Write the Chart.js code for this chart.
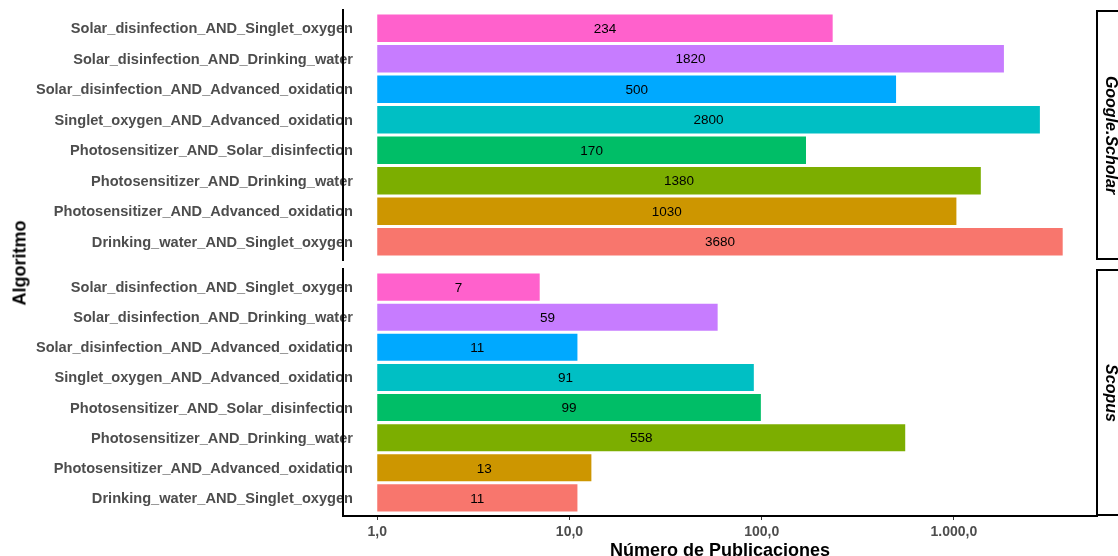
<!DOCTYPE html>
<html>
<head>
<meta charset="utf-8">
<script src="https://cdn.jsdelivr.net/npm/chart.js@4/dist/chart.umd.min.js"></script>
<style>
  body { margin: 0; background: #fff; }
  #wrap { position: relative; width: 1118px; height: 556px; overflow: hidden; }
  #topCanvas { position: absolute; left: 0; top: 0; }
  #bottomCanvas { position: absolute; left: 0; top: 259px; }
  .strip { position: absolute; left: 1096px; width: 40px; border: 2px solid #000; box-sizing: border-box; }
  .strip span { position: absolute; left: 13px; top: 50%; transform: translate(-50%, -50%) rotate(90deg);
    font: italic bold 16px "Liberation Sans", Arial, sans-serif; white-space: nowrap; color: #000; }
  #ytitle { position: absolute; left: 20px; top: 263px; transform: translate(-50%, -50%) rotate(-90deg);
    font: bold 18px "Liberation Sans", Arial, sans-serif; color: #000; white-space: nowrap; }
</style>
</head>
<body>
<div id="wrap">
  <canvas id="topCanvas" width="1118" height="270"></canvas>
  <canvas id="bottomCanvas" width="1118" height="297"></canvas>
  <div class="strip" style="top:10px;height:250px"><span>Google.Scholar</span></div>
  <div class="strip" style="top:269px;height:247px"><span>Scopus</span></div>
  <div id="ytitle">Algoritmo</div>
</div>
<script>
// categories, top to bottom
const algorithms = [
    'Solar_disinfection_AND_Singlet_oxygen',
    'Solar_disinfection_AND_Drinking_water',
    'Solar_disinfection_AND_Advanced_oxidation',
    'Singlet_oxygen_AND_Advanced_oxidation',
    'Photosensitizer_AND_Solar_disinfection',
    'Photosensitizer_AND_Drinking_water',
    'Photosensitizer_AND_Advanced_oxidation',
    'Drinking_water_AND_Singlet_oxygen'
];
const googleScholar = [234, 1820, 500, 2800, 170, 1380, 1030, 3680];
const scopus = [7, 59, 11, 91, 99, 558, 13, 11];
const barColors = ['#FF61CC', '#C77CFF', '#00A9FF', '#00BFC4', '#00BE67', '#7CAE00', '#CD9600', '#F8766D'];
const tickValues = [1, 10, 100, 1000];
const tickLabels = ['1,0', '10,0', '100,0', '1.000,0'];

const FONT = '"Liberation Sans", Arial, sans-serif';
const xMin = 0.6635, xMax = 5550;

// numbers in the middle of each bar
const valueLabels = {
    id: 'valueLabels',
    afterDatasetsDraw(chart) {
        const ctx = chart.ctx;
        const meta = chart.getDatasetMeta(0);
        const vals = chart.data.datasets[0].data;
        ctx.save();
        ctx.font = '13.5px ' + FONT;
        ctx.fillStyle = '#000';
        ctx.textAlign = 'center';
        ctx.textBaseline = 'middle';
        meta.data.forEach((bar, i) => {
            ctx.fillText(String(vals[i].x[1]), (bar.x + bar.base) / 2, bar.y + 1);
        });
        ctx.restore();
    }
};

// category labels: they run a little past the axis line, so draw them
// ourselves (the scale would clip them) before the axis is drawn
const catLabels = {
    id: 'catLabels',
    beforeDraw(chart) {
        const ctx = chart.ctx;
        const y = chart.scales.y;
        ctx.save();
        ctx.font = 'bold 14.6px ' + FONT;
        ctx.fillStyle = '#4D4D4D';
        ctx.textAlign = 'right';
        ctx.textBaseline = 'middle';
        algorithms.forEach((lab, i) => {
            ctx.fillText(lab, y.right + 10, y.getPixelForValue(i) + 1);
        });
        ctx.restore();
    }
};

function makeChart(id, values, showX) {
    return new Chart(document.getElementById(id), {
        type: 'bar',
        data: {
            datasets: [{
                data: values.map((v, i) => ({ x: [1, v], y: i })),
                backgroundColor: barColors,
                borderWidth: 0,
                barPercentage: 0.9,
                categoryPercentage: 1.0
            }]
        },
        options: {
            indexAxis: 'y',
            responsive: false,
            animation: false,
            layout: { padding: { top: 10, right: 21, bottom: showX ? 0 : 10, left: 0 } },
            plugins: { legend: { display: false }, tooltip: { enabled: false } },
            scales: {
                x: {
                    type: 'logarithmic',
                    display: showX,
                    min: xMin,
                    max: xMax,
                    afterBuildTicks: s => { s.ticks = tickValues.map(v => ({ value: v })); },
                    afterFit: s => { if (showX) s.height = 40; },
                    grid: { drawOnChartArea: false, drawTicks: true, tickLength: 4, color: '#333', lineWidth: 1 },
                    border: { display: true, color: '#000', width: 2 },
                    ticks: {
                        padding: 4,
                        color: '#4D4D4D',
                        font: { family: FONT, size: 14, weight: 'bold' },
                        callback: v => tickLabels[tickValues.indexOf(v)],
                        maxRotation: 0,
                        autoSkip: false
                    },
                    title: {
                        display: true,
                        text: 'Número de Publicaciones',
                        color: '#000',
                        padding: { top: 0, bottom: -4 },
                        font: { family: FONT, size: 18, weight: 'bold', lineHeight: 1 }
                    }
                },
                y: {
                    type: 'linear',
                    min: -0.6,
                    max: algorithms.length - 0.4,
                    reverse: true,
                    offset: false,
                    afterBuildTicks: s => { s.ticks = algorithms.map((_, i) => ({ value: i })); },
                    afterFit: s => { s.width = 343; },
                    grid: { display: false, drawTicks: false, offset: false },
                    border: { display: true, color: '#000', width: 2 },
                    ticks: { display: false }
                }
            }
        },
        plugins: [catLabels, valueLabels]
    });
}

makeChart('topCanvas', googleScholar, false);
makeChart('bottomCanvas', scopus, true);
</script>
</body>
</html>
